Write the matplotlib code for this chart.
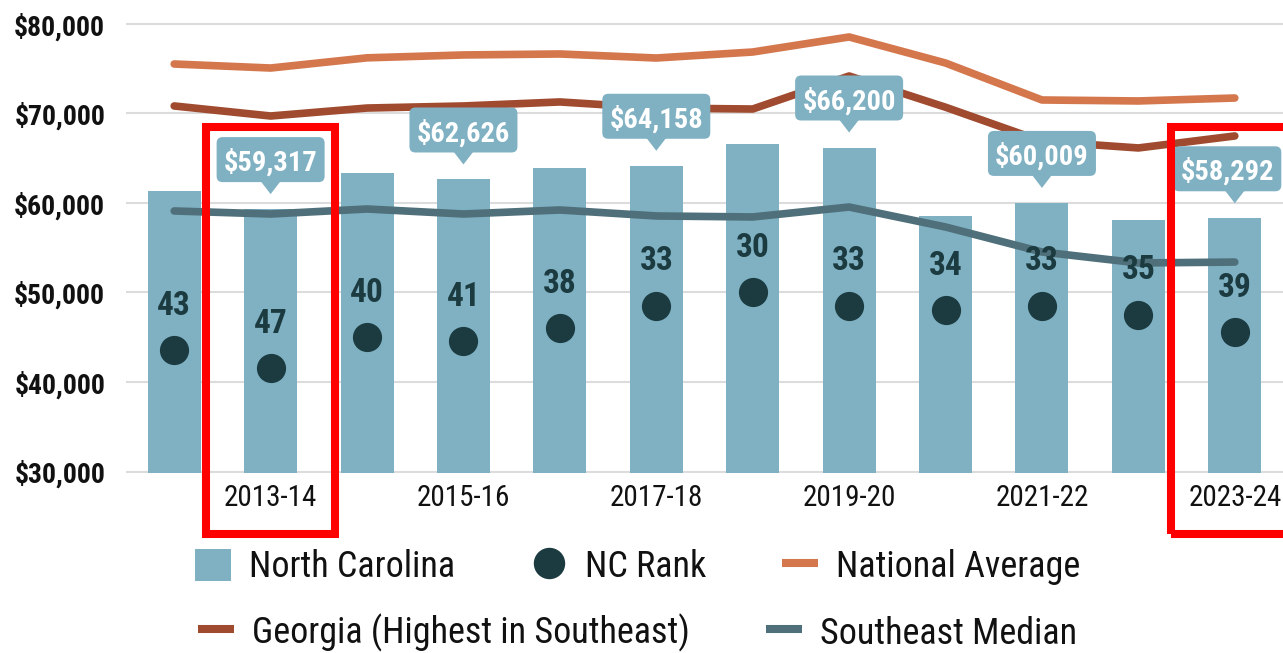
"""
NC teacher pay vs. national / Georgia / Southeast median, with NC rank
"""

import numpy as np
import matplotlib
matplotlib.use("Agg")
import matplotlib.pyplot as plt
from matplotlib import transforms
from matplotlib.patches import FancyBboxPatch, Polygon, Rectangle, Patch
from matplotlib.lines import Line2D

plt.rcParams["font.family"] = ["Roboto Condensed", "Liberation Sans Narrow",
                               "DejaVu Sans Condensed", "Roboto"]
plt.rcParams["font.stretch"] = "condensed"

seasons = ["2012-13", "2013-14", "2014-15", "2015-16", "2016-17", "2017-18",
           "2018-19", "2019-20", "2020-21", "2021-22", "2022-23", "2023-24"]
nc_salary = [61340, 59317, 63300, 62626, 63900, 64158, 66600, 66200, 58560, 60009, 58050, 58292]
nc_rank = [43, 47, 40, 41, 38, 33, 30, 33, 34, 33, 35, 39]
national_avg = [75530, 75080, 76220, 76540, 76650, 76200, 76870, 78550, 75640, 71510, 71400, 71730]
georgia = [70840, 69720, 70610, 70840, 71290, 70610, 70500, 74190, 70700, 66900, 66150, 67490]
se_median = [59110, 58770, 59330, 58770, 59220, 58550, 58440, 59550, 57320, 54530, 53300, 53400]

callout_idx = [1, 3, 5, 7, 9, 11]
highlight_idx = [1, 11]

BAR = "#7FB1C3"
DOT = "#1B3B40"
NAT = "#D4774D"
GA = "#A04B2F"
SE = "#4F707A"
GRID = "#DCDCDC"

fig = plt.figure(figsize=(12.83, 6.53), dpi=100)
ax = fig.add_axes([0.0982, 0.2752, 0.9018, 0.6908])
x = np.arange(len(seasons))

ax.bar(x, nc_salary, width=0.55, color=BAR, zorder=2)
for vals, col in ((national_avg, NAT), (georgia, GA), (se_median, SE)):
    ax.plot(x, vals, color=col, lw=5.5, solid_capstyle="round",
            solid_joinstyle="round", zorder=3)

ax.set_xlim(-0.5, len(seasons) - 0.5)
ax.set_ylim(29800, 80200)
ax.set_yticks(np.arange(30000, 80001, 10000))
ax.yaxis.set_major_formatter(lambda v, p: f"${v:,.0f}")
ax.set_xticks(x[1::2], seasons[1::2])
ax.grid(axis="y", color=GRID, lw=1.5)
ax.set_axisbelow(True)
for s in ax.spines.values():
    s.set_visible(False)
ax.tick_params(length=0, colors="#111111")
ax.tick_params(axis="y", pad=15, labelsize=20)
ax.tick_params(axis="x", pad=8, labelsize=21)
for t in ax.get_yticklabels():
    t.set_fontweight("bold")

# callout boxes above selected bars (last one nudged left so it stays on the page)
for i in callout_idx:
    v = nc_salary[i]
    dx = -0.075 if i == len(seasons) - 1 else 0.0
    tr = fig.dpi_scale_trans + transforms.ScaledTranslation(x[i], v, ax.transData)
    ax.add_patch(FancyBboxPatch((dx - 0.54, 0.27), 1.08, 0.45,
                                boxstyle="round,pad=0,rounding_size=0.06",
                                transform=tr, fc=BAR, ec="none", zorder=6, clip_on=False))
    ax.add_patch(Polygon([(-0.1, 0.28), (0.1, 0.28), (0, 0.15)], closed=True,
                         transform=tr, fc=BAR, ec="none", zorder=6, clip_on=False))
    ax.text(dx, 0.495, f"${v:,}", transform=tr, ha="center", va="center_baseline",
            color="white", fontsize=20.5, fontweight="bold", zorder=7)

# rank on its own (inverted) scale
ax2 = ax.twinx()
ax2.set_ylim(70.29, -29.96)
ax2.axis("off")
ax2.plot(x, nc_rank, ls="none", marker="o", ms=20, color=DOT, zorder=4)
for i, r in zip(x, nc_rank):
    ax2.annotate(str(r), (i, r), xytext=(0, 34.5), textcoords="offset points",
                 ha="center", va="center_baseline", fontsize=24,
                 fontweight="bold", color=DOT, zorder=5)

# red highlight frames
blend = transforms.blended_transform_factory(ax2.transData, ax2.transAxes)
for i in highlight_idx:
    ax2.add_patch(Rectangle((x[i] - 0.665, -0.1346), 1.33, 0.9012, transform=blend,
                            fill=False, ec="#FF0000", lw=5.8, clip_on=False, zorder=10))

h_nc = Patch(fc=BAR)
h_rank = Line2D([], [], ls="none", marker="o", ms=21.6, color=DOT)
h_nat = Line2D([], [], color=NAT, lw=5.8, solid_capstyle="butt")
h_ga = Line2D([], [], color=GA, lw=5.8, solid_capstyle="butt")
h_se = Line2D([], [], color=SE, lw=5.8, solid_capstyle="butt")

leg_kw = dict(loc="center", frameon=False, fontsize=26, handlelength=1.0,
              handleheight=1.0, handletextpad=0.5, columnspacing=2.1,
              borderpad=0, borderaxespad=0, labelcolor="#111111")
fig.legend([h_nc, h_rank, h_nat], ["North Carolina", "NC Rank", "National Average"],
           bbox_to_anchor=(0.497, 0.1317), ncol=3, **leg_kw)
fig.legend([h_ga, h_se], ["Georgia (Highest in Southeast)", "Southeast Median"],
           bbox_to_anchor=(0.497, 0.0306), ncol=2, **leg_kw)

fig.savefig("out.png", dpi=100)
